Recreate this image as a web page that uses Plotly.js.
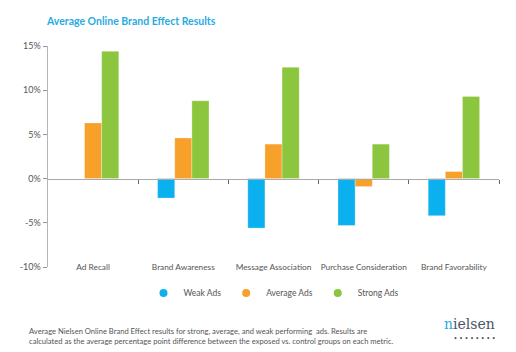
<!DOCTYPE html>
<html>
<head>
<meta charset="utf-8">
<script src="https://cdn.plot.ly/plotly-3.0.1.min.js"></script>
<style>html,body{margin:0;padding:0;background:#fff;}#chart{width:516px;height:352px;}</style>
</head>
<body>
<div id="chart"></div>
<script>
const categories = ["Ad Recall", "Brand Awareness", "Message Association", "Purchase Consideration", "Brand Favorability"];
const weakAds = [null, -2.2, -5.6, -5.3, -4.2];
const averageAds = [6.3, 4.6, 3.9, -0.9, 0.8];
const strongAds = [14.4, 8.8, 12.6, 3.9, 9.3];
const seriesNames = ["Weak Ads", "Average Ads", "Strong Ads"];
const seriesColors = ["#0bb0ee", "#f7a02a", "#8cc63f"];
const yTickVals = [-10, -5, 0, 5, 10, 15];
const yTickText = ["-10%", "-5%", "0%", "5%", "10%", "15%"];
const footnote = "Average Nielsen Online Brand Effect results for strong, average, and weak performing  ads. Results are<br>calculated as the average percentage point difference between the exposed vs. control groups on each metric.";

const font = "Lato, 'Open Sans', sans-serif";
const values = [weakAds, averageAds, strongAds];
const traces = [];
values.forEach((v, i) => {
  traces.push({
    type: "bar", x: categories, y: v, name: seriesNames[i],
    marker: {color: seriesColors[i], line: {color: "rgba(255,255,255,0.6)", width: 0.5}},
    showlegend: false, hoverinfo: "skip"
  });
});
values.forEach((v, i) => {
  traces.push({
    type: "scatter", mode: "markers", x: [null], y: [null], name: seriesNames[i],
    marker: {color: seriesColors[i], symbol: "circle", size: 8}, showlegend: true
  });
});
traces.push({type: "scatter", x: [0], y: [0], xaxis: "x2", yaxis: "y", mode: "markers",
  marker: {opacity: 0}, showlegend: false, hoverinfo: "skip"});

const layout = {
  width: 516, height: 352,
  margin: {l: 48, r: 17, t: 46, b: 85},
  paper_bgcolor: "#fff", plot_bgcolor: "#fff",
  font: {family: font, color: "#555", size: 9},
  barmode: "group", bargap: 0.43, bargroupgap: 0,
  title: {text: "Average Online Brand Effect Results", x: 47 / 516, xref: "container", xanchor: "left",
          y: 1 - 21 / 352, yref: "container", yanchor: "middle",
          font: {family: font, size: 10.5, color: "#29abe2", weight: 700}},
  xaxis: {type: "category", showline: false, ticks: "", zeroline: false, showgrid: false,
          tickangle: 0, tickfont: {size: 8.3, color: "#555"}, ticklabelstandoff: -6, fixedrange: true},
  xaxis2: {overlaying: "x", anchor: "free", position: 0.4, side: "bottom", range: [-0.5, 4.5],
           tickvals: [0.5, 1.5, 2.5, 3.5, 4.5], showticklabels: false, ticks: "outside",
           ticklen: 4, tickcolor: "#666", tickwidth: 1, showline: true, linecolor: "#a9a9a9",
           linewidth: 1, showgrid: false, zeroline: false, layer: "above traces"},
  yaxis: {range: [-10, 15], tickvals: yTickVals, ticktext: yTickText, showgrid: false,
          zeroline: false, showline: true, linecolor: "#b5b5b5", linewidth: 1.5,
          ticks: "outside", ticklen: 4, tickcolor: "#999", tickfont: {size: 9, color: "#555"}},
  legend: {orientation: "h", x: 0.5, xanchor: "center", y: -0.118, yanchor: "middle",
           font: {size: 8.5, color: "#555"}, itemwidth: 30},
  annotations: [
    {text: footnote, xref: "paper", yref: "paper", x: -0.046, xanchor: "left", y: -0.31, yanchor: "middle",
     showarrow: false, align: "left", font: {size: 7.6, color: "#555"}},
    {text: "<span style='color:#29abe2'>n</span>ielsen", xref: "paper", yref: "paper", x: 0.996, xanchor: "right",
     y: -0.26, yanchor: "middle", showarrow: false,
     font: {family: "'DejaVu Serif', 'Liberation Serif', serif", size: 14, color: "#4a5668"}},
    {text: "•  •  •  •  •  •  •  •", xref: "paper", yref: "paper", x: 0.996, xanchor: "right",
     y: -0.32, yanchor: "middle", showarrow: false, font: {size: 5, color: "#4a5668"}}
  ]
};
Plotly.newPlot("chart", traces, layout, {staticPlot: true, displayModeBar: false});
</script>
</body>
</html>
